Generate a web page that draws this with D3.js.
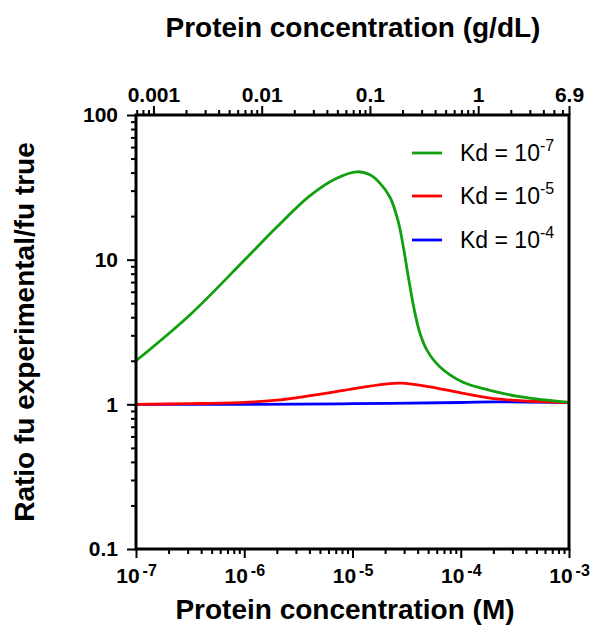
<!DOCTYPE html>
<html>
<head>
<meta charset="utf-8">
<script src="https://cdn.jsdelivr.net/npm/d3@7"></script>
<style>
  html, body { margin: 0; padding: 0; background: #fff; }
  svg { display: block; font-family: "Liberation Sans", Arial, sans-serif; }
</style>
</head>
<body>
<svg id="chart" width="592" height="629"></svg>
<script>
// ---- data ----
const kd7Conc  = [1e-7, 3.2e-7, 1e-6, 2e-6, 4e-6, 7e-6, 1.1e-5, 1.45e-5, 1.8e-5, 2.22e-5, 2.63e-5, 2.93e-5, 3.26e-5, 3.7e-5, 4.2e-5, 4.9e-5, 6.4e-5, 1.05e-4, 1.86e-4, 3.76e-4, 1e-3];
const kd7Ratio = [2.0, 4.2, 9.9, 16.8, 27.5, 36.3, 40.5, 38.6, 33.7, 27.0, 18.7, 12.6, 7.8, 4.6, 3.1, 2.35, 1.82, 1.42, 1.25, 1.12, 1.03];
const kd5Conc  = [1e-7, 3e-7, 1e-6, 2e-6, 3e-6, 6e-6, 1e-5, 2e-5, 2.8e-5, 5.2e-5, 1.06e-4, 2.15e-4, 4.4e-4, 1e-3];
const kd5Ratio = [1.0, 1.01, 1.03, 1.07, 1.11, 1.2, 1.28, 1.38, 1.40, 1.32, 1.19, 1.09, 1.05, 1.03];
const kd4Conc  = [1e-7, 1e-6, 1e-5, 1e-4, 2e-4, 1e-3];
const kd4Ratio = [1.0, 1.0, 1.01, 1.03, 1.04, 1.03];
const seriesNames = ["Kd = 10", "Kd = 10", "Kd = 10"];
const seriesExp   = ["-7", "-5", "-4"];
const seriesColors = ["#10a010", "#ff0000", "#0000ff"];
const xTickValues = [1e-7, 1e-6, 1e-5, 1e-4, 1e-3];
const xTickExp    = ["-7", "-6", "-5", "-4", "-3"];
const yTickValues = [0.1, 1, 10, 100];
const yTickLabels = ["0.1", "1", "10", "100"];
const topTickValues = [0.001, 0.01, 0.1, 1, 6.9];
const topTickLabels = ["0.001", "0.01", "0.1", "1", "6.9"];
const topDomain = [6.9e-4, 6.9];

// ---- layout ----
const svg = d3.select("#chart");
const L = 136, R = 569, T = 115, B = 549;
const x = d3.scaleLog().domain([1e-7, 1e-3]).range([L, R]);
const y = d3.scaleLog().domain([0.1, 100]).range([B, T]);
const xTop = d3.scaleLog().domain(topDomain).range([L, R]);

function minors(lo, hi) {
  const out = [];
  for (let e = Math.floor(Math.log10(lo)) ; e <= Math.ceil(Math.log10(hi)); e++) {
    for (let m = 2; m <= 9; m++) {
      const v = m * Math.pow(10, e);
      if (v >= lo * 0.999 && v <= hi * 1.001) out.push(v);
    }
  }
  return out;
}

// ---- series ----
const series = [
  {c: kd7Conc, r: kd7Ratio, color: seriesColors[0]},
  {c: kd5Conc, r: kd5Ratio, color: seriesColors[1]},
  {c: kd4Conc, r: kd4Ratio, color: seriesColors[2]},
];
const line = d3.line().x(d => x(d[0])).y(d => y(d[1])).curve(d3.curveCatmullRom.alpha(0.5));
[2, 1, 0].forEach(i => {
  const s = series[i];
  svg.append("path")
    .datum(s.c.map((c, j) => [c, s.r[j]]))
    .attr("d", line)
    .attr("fill", "none")
    .attr("stroke", s.color)
    .attr("stroke-width", 2.8);
});

// ---- axes ----
function styleAxis(g) {
  g.select(".domain").remove();
  g.selectAll(".tick line").attr("stroke", "#000").attr("stroke-width", 2);
}
// bottom
svg.append("g").attr("transform", `translate(0,${B})`)
  .call(d3.axisBottom(x).tickValues(minors(1e-7, 1e-3)).tickSize(5).tickFormat(""))
  .call(styleAxis);
const xb = svg.append("g").attr("transform", `translate(0,${B})`)
  .call(d3.axisBottom(x).tickValues(xTickValues).tickSize(9).tickFormat(""))
  .call(styleAxis);
xb.selectAll(".tick").each(function(d, i) {
  const t = d3.select(this).append("text")
    .attr("y", 34).attr("text-anchor", "middle")
    .attr("font-size", 21).attr("font-weight", "bold").attr("fill", "#000");
  t.append("tspan").text("10");
  t.append("tspan").attr("font-size", 16).attr("dx", 3).attr("dy", -7).text(xTickExp[i]);
});
// left
svg.append("g").attr("transform", `translate(${L},0)`)
  .call(d3.axisLeft(y).tickValues(minors(0.1, 100)).tickSize(5).tickFormat(""))
  .call(styleAxis);
const yl = svg.append("g").attr("transform", `translate(${L},0)`)
  .call(d3.axisLeft(y).tickValues(yTickValues).tickSize(9).tickFormat((d, i) => yTickLabels[i]))
  .call(styleAxis);
yl.selectAll(".tick text").attr("font-size", 21).attr("font-weight", "bold")
  .attr("fill", "#000").attr("x", -18).attr("font-family", "Liberation Sans, Arial, sans-serif");
// top
svg.append("g").attr("transform", `translate(0,${T})`)
  .call(d3.axisTop(xTop).tickValues(minors(topDomain[0], topDomain[1]).filter(v => Math.abs(v - 6.9) > 0.05)).tickSize(5).tickFormat(""))
  .call(styleAxis);
const xt = svg.append("g").attr("transform", `translate(0,${T})`)
  .call(d3.axisTop(xTop).tickValues(topTickValues).tickSize(9).tickFormat((d, i) => topTickLabels[i]))
  .call(styleAxis);
xt.selectAll(".tick text").attr("font-size", 21).attr("font-weight", "bold")
  .attr("fill", "#000").attr("y", -13).attr("font-family", "Liberation Sans, Arial, sans-serif");

// frame
svg.append("rect").attr("x", L).attr("y", T).attr("width", R - L).attr("height", B - T)
  .attr("fill", "none").attr("stroke", "#000").attr("stroke-width", 3);

// ---- titles ----
svg.append("text").attr("x", 353).attr("y", 37).attr("text-anchor", "middle")
  .attr("font-size", 28).attr("font-weight", "bold").text("Protein concentration (g/dL)");
svg.append("text").attr("x", 345).attr("y", 619).attr("text-anchor", "middle")
  .attr("font-size", 28).attr("font-weight", "bold").text("Protein concentration (M)");
svg.append("text").attr("transform", "translate(34,332) rotate(-90)").attr("text-anchor", "middle")
  .attr("font-size", 28).attr("font-weight", "bold").text("Ratio fu experimental/fu true");

// ---- legend ----
const legendY = [153, 196, 240];
seriesNames.forEach((n, i) => {
  svg.append("line").attr("x1", 412).attr("x2", 442).attr("y1", legendY[i]).attr("y2", legendY[i])
    .attr("stroke", seriesColors[i]).attr("stroke-width", 2.8);
  const t = svg.append("text").attr("x", 460).attr("y", legendY[i] + 8).attr("font-size", 23).attr("fill", "#000");
  t.append("tspan").text(n);
  t.append("tspan").attr("font-size", 16).attr("dy", -10).text(seriesExp[i]);
});
</script>
</body>
</html>
